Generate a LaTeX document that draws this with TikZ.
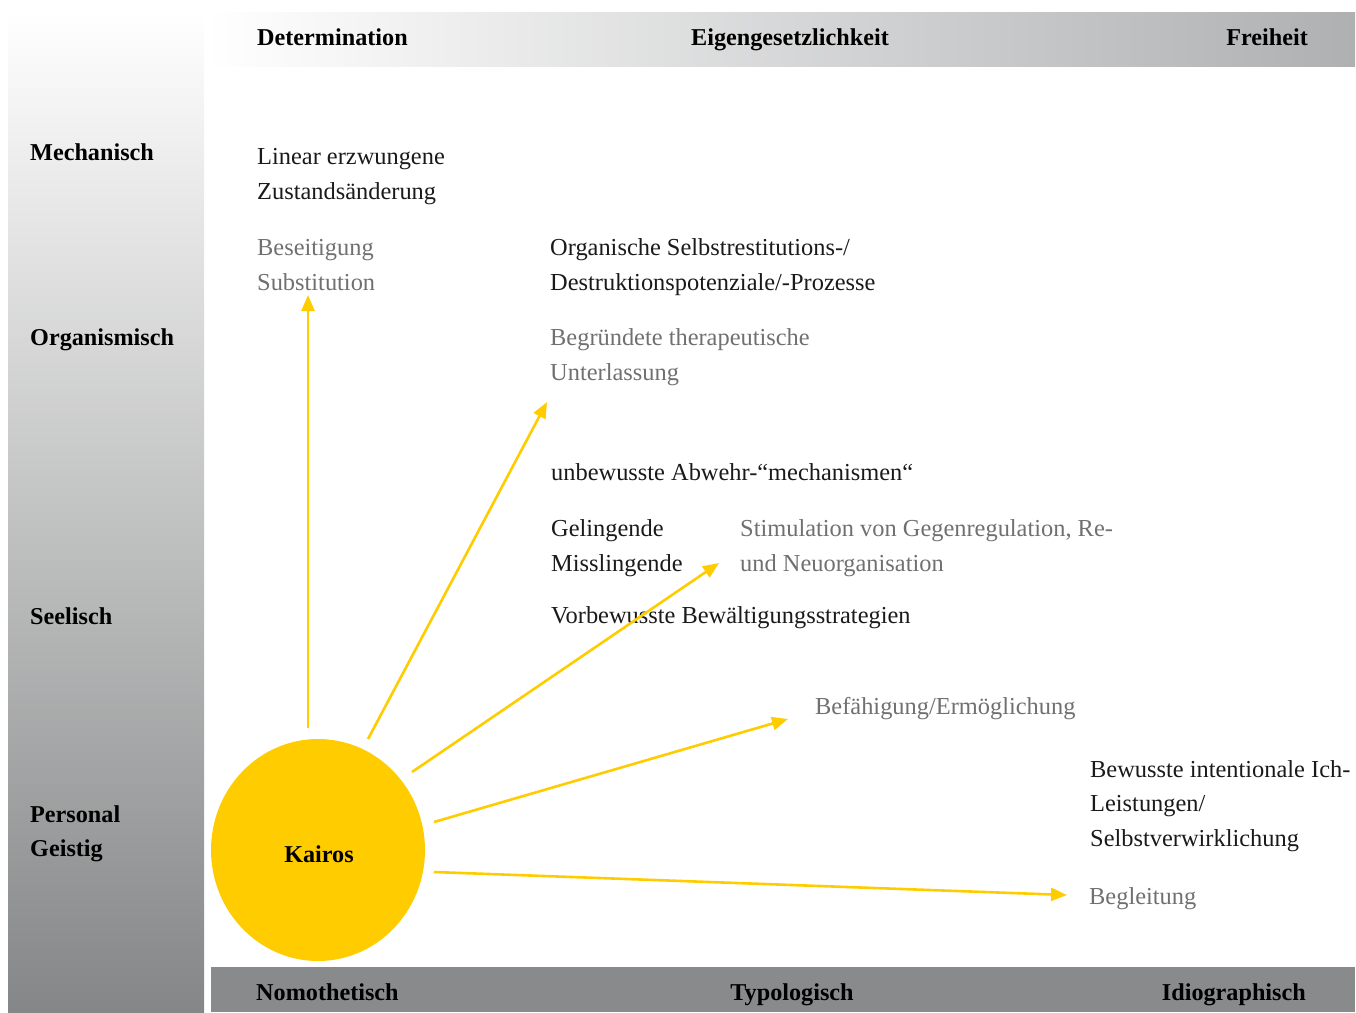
\documentclass[tikz,border=0pt]{standalone}
\usepackage{fontspec}
\setmainfont{Liberation Serif}
\usetikzlibrary{arrows.meta,shapes.geometric}
\definecolor{kyellow}{HTML}{FFCC00}
\definecolor{kgray}{HTML}{707070}
\definecolor{barbot}{HTML}{898A8C}
\definecolor{barend}{HTML}{858687}
\definecolor{topend}{HTML}{AFB0B2}
\definecolor{ink}{HTML}{1A1A1A}
\tikzset{
  body/.style={anchor=base west, inner sep=0pt, font=\fontsize{24.4}{35}\selectfont, text=ink},
  bodyg/.style={body, text=kgray},
  head/.style={anchor=base west, inner sep=0pt, font=\fontsize{24.2}{35}\selectfont\bfseries, text=black},
  ray/.style={draw=kyellow, line width=2.6pt, -{Triangle[length=16pt,width=13pt]}}
}
\begin{document}
\begin{tikzpicture}[x=1pt,y=-1pt]
\useasboundingbox (0,0) rectangle (1356,1012);
% bars
\shade[top color=white, bottom color=barend] (8,10) rectangle (204,1012);
\shade[left color=white, right color=topend] (205,12) rectangle (1355,66);
\fill[barbot] (211,967) rectangle (1355,1012);
% headers
\node[head] (det) at (257,45) {Determination};
\node[head, anchor=base] (eig) at (790,45) {Eigengesetzlichkeit};
\node[head, anchor=base east] (frei) at (1308,45) {Freiheit};
\node[head] (nomo) at (256,1000) {Nomothetisch};
\node[head, anchor=base] (typo) at (792,1000) {Typologisch};
\node[head, anchor=base east] (idio) at (1306,1000) {Idiographisch};
\node[head] (mech) at (30,160) {Mechanisch};
\node[head] (orga) at (30,345) {Organismisch};
\node[head] (seel) at (30,624) {Seelisch};
\node[head] (pers) at (30,822) {Personal};
\node[head] (geis) at (30,856) {Geistig};
% kairos
\node[ellipse, fill=kyellow, minimum width=214pt, minimum height=222pt, inner sep=0pt] (kairos) at (318,850) {};
\node[head, anchor=base] (kairoslbl) at (319,862) {Kairos};
% texts
\node[body] (lin1) at (257,164) {Linear erzwungene};
\node[body] (lin2) at (257,199) {Zustandsänderung};
\node[bodyg] (bes1) at (257,255) {Beseitigung};
\node[bodyg] (bes2) at (257,290) {Substitution};
\node[body] (org1) at (550,255) {Organische Selbstrestitutions-/};
\node[body] (org2) at (550,290) {Destruktionspotenziale/-Prozesse};
\node[bodyg] (beg1) at (550,345) {Begründete therapeutische};
\node[bodyg] (beg2) at (550,380) {Unterlassung};
\node[body] (unb) at (551,480) {unbewusste Abwehr-“mechanismen“};
\node[body] (gel) at (551,536) {Gelingende};
\node[body] (mis) at (551,571) {Misslingende};
\node[bodyg] (sti1) at (740,536) {Stimulation von Gegenregulation, Re-};
\node[bodyg] (sti2) at (740,571) {und Neuorganisation};
\node[body] (vor) at (551,623) {Vorbewusste Bewältigungsstrategien};
\node[bodyg] (bef) at (815,714) {Befähigung/Ermöglichung};
\node[body] (bew1) at (1090,777) {Bewusste intentionale Ich-};
\node[body] (bew2) at (1090,811) {Leistungen/};
\node[body] (bew3) at (1090,846) {Selbstverwirklichung};
\node[bodyg] (bgl) at (1089,904) {Begleitung};
% arrow ends
\coordinate (s1) at (308,728); \coordinate (e1) at (308,295);
\coordinate (s2) at (368,739); \coordinate (e2) at (547,402);
\coordinate (s3) at (412,772); \coordinate (e3) at (719,563);
\coordinate (s4) at (434,822); \coordinate (e4) at (788,719);
\coordinate (s5) at (434,872); \coordinate (e5) at (1067,895);
\draw[ray] (s1) -- (e1);
\draw[ray] (s2) -- (e2);
\draw[ray] (s3) -- (e3);
\draw[ray] (s4) -- (e4);
\draw[ray] (s5) -- (e5);
\end{tikzpicture}
\end{document}
